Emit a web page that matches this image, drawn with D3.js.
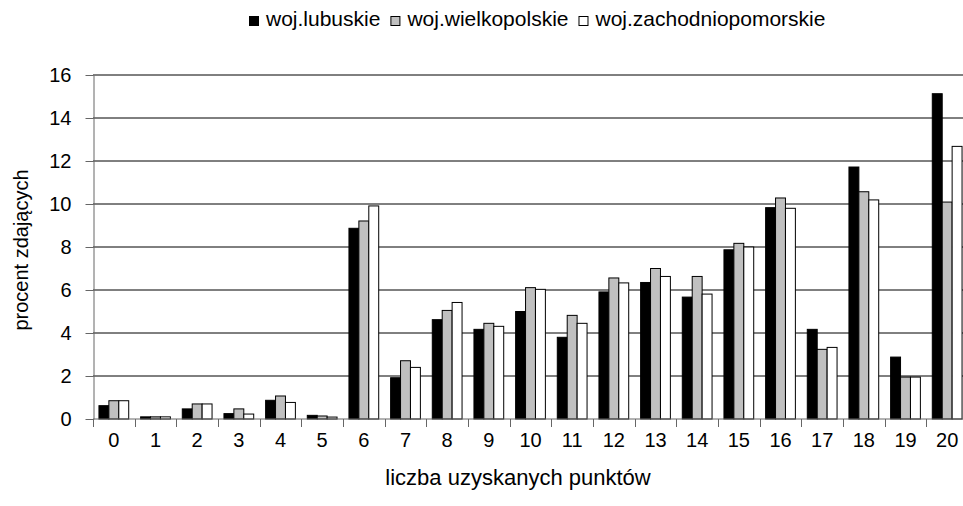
<!DOCTYPE html>
<html>
<head>
<meta charset="utf-8">
<script src="https://cdn.jsdelivr.net/npm/d3@7"></script>
<style>
  body { margin: 0; background: #fff; }
  svg { display: block; font-family: "Liberation Sans", Arial, sans-serif; }
</style>
</head>
<body>
<svg id="chart"></svg>
<script>
// points scored (categories on the x axis)
const points = ["0","1","2","3","4","5","6","7","8","9","10","11","12","13","14","15","16","17","18","19","20"];
const seriesNames = ["woj.lubuskie", "woj.wielkopolskie", "woj.zachodniopomorskie"];
const lubuskie = [0.62, 0.1, 0.47, 0.25, 0.87, 0.17, 8.87, 1.92, 4.62, 4.17, 5.0, 3.8, 5.91, 6.35, 5.67, 7.87, 9.83, 4.17, 11.72, 2.88, 15.13];
const wielkopolskie = [0.85, 0.1, 0.7, 0.47, 1.07, 0.14, 9.21, 2.71, 5.05, 4.45, 6.11, 4.82, 6.56, 7.0, 6.63, 8.17, 10.28, 3.24, 10.57, 1.95, 10.09];
const zachodniopomorskie = [0.85, 0.1, 0.7, 0.23, 0.77, 0.09, 9.91, 2.4, 5.42, 4.31, 6.03, 4.45, 6.33, 6.63, 5.81, 8.0, 9.8, 3.33, 10.19, 1.95, 12.68];
const yTicks = [0, 2, 4, 6, 8, 10, 12, 14, 16];
const colors = ["#000000", "#c0c0c0", "#ffffff"];

const width = 963, height = 506;
const margin = { top: 75, right: -5, bottom: 87, left: 93 };

const svg = d3.select("#chart").attr("width", width).attr("height", height);

const data = points.map((p, i) => ({
  point: p,
  values: [lubuskie[i], wielkopolskie[i], zachodniopomorskie[i]]
}));

const x = d3.scaleBand()
  .domain(points)
  .range([margin.left, width - margin.right]);

const inner = d3.scaleBand()
  .domain(d3.range(seriesNames.length))
  .range([0, x.bandwidth()])
  .paddingOuter(0.6);

const y = d3.scaleLinear()
  .domain([0, 16])
  .range([height - margin.bottom, margin.top]);

// gridlines
svg.append("g")
  .selectAll("line")
  .data(yTicks.filter(d => d > 0))
  .join("line")
  .attr("x1", margin.left)
  .attr("x2", width)
  .attr("y1", d => y(d))
  .attr("y2", d => y(d))
  .attr("stroke", "#000")
  .attr("stroke-width", 1);

// bars
svg.append("g")
  .selectAll("g")
  .data(data)
  .join("g")
  .attr("transform", d => `translate(${x(d.point)},0)`)
  .selectAll("rect")
  .data(d => d.values.map((v, k) => ({ k: k, v: v })))
  .join("rect")
  .attr("x", d => inner(d.k))
  .attr("y", d => y(d.v))
  .attr("width", inner.bandwidth())
  .attr("height", d => y(0) - y(d.v))
  .attr("fill", d => colors[d.k])
  .attr("stroke", "#000")
  .attr("stroke-width", 1);

// y axis
const yAxis = svg.append("g")
  .attr("transform", `translate(${margin.left + 0.5},0)`)
  .call(d3.axisLeft(y).tickValues(yTicks).tickSize(8).tickPadding(14).tickSizeOuter(0));
yAxis.select(".domain").attr("stroke", "#666");
yAxis.selectAll(".tick line").attr("stroke", "#666");
yAxis.selectAll("text").attr("font-size", 20).attr("font-family", null).attr("fill", "#000");

// x axis: ticks between categories
const xAxis = svg.append("g")
  .attr("transform", `translate(0,${y(0)})`);
xAxis.append("line")
  .attr("x1", margin.left).attr("x2", width)
  .attr("stroke", "#666");
xAxis.selectAll("line.tk")
  .data(points)
  .join("line")
  .attr("class", "tk")
  .attr("x1", d => Math.round(x(d)) + 0.5)
  .attr("x2", d => Math.round(x(d)) + 0.5)
  .attr("y1", 0).attr("y2", 8)
  .attr("stroke", "#666");
xAxis.selectAll("text")
  .data(points)
  .join("text")
  .attr("x", d => x(d) + x.bandwidth() / 2)
  .attr("y", 28)
  .attr("text-anchor", "middle")
  .attr("font-size", 20)
  .text(d => d);

// axis titles
svg.append("text")
  .attr("x", 518).attr("y", 485)
  .attr("text-anchor", "middle")
  .attr("font-size", 22)
  .text("liczba uzyskanych punktów");

svg.append("text")
  .attr("transform", "translate(28,250) rotate(-90)")
  .attr("text-anchor", "middle")
  .attr("font-size", 20)
  .text("procent zdających");

// legend, laid out from the measured text widths
const legend = svg.append("g").attr("transform", "translate(249,0)");
let lx = 0;
seriesNames.forEach((name, i) => {
  const item = legend.append("g").attr("transform", `translate(${lx},0)`);
  item.append("rect")
    .attr("x", 0.5).attr("y", 16.5)
    .attr("width", 9).attr("height", 9)
    .attr("fill", colors[i])
    .attr("stroke", "#000");
  const t = item.append("text")
    .attr("x", 17).attr("y", 26)
    .attr("font-size", 21)
    .text(name);
  lx += 17 + t.node().getComputedTextLength() + 10;
});
</script>
</body>
</html>
